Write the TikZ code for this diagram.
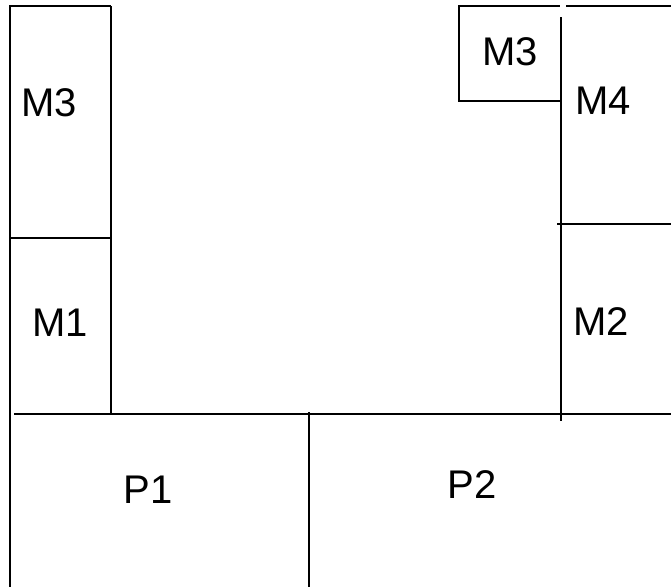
\documentclass[tikz,border=0pt]{standalone}
\usepackage{fontspec}
\setmainfont{Liberation Sans}
\tikzset{wall/.style={line width=1.6pt,black},
  lbl/.style={font=\fontsize{40}{46}\selectfont,inner sep=0pt}}

\begin{document}
\begin{tikzpicture}[x=1pt,y=-1pt]
            \useasboundingbox (0,0) rectangle (671,587);
            % Left column
            \draw[wall] (111,6) -- (10,6) -- (10,587);
            \draw[wall] (111,6) -- (111,414);
            \draw[wall] (10,238) -- (111,238);
            
            % Floor line and bottom split
            \draw[wall] (14,414) -- (671,414);
            \draw[wall] (309,412) -- (309,587);
            
            % Right column
            \draw[wall] (560,101) -- (459,101) -- (459,6) -- (560,6);
            \draw[wall] (566,6) -- (671,6);
            \draw[wall] (561,17) -- (561,421);
            \draw[wall] (557,224) -- (671,224);
            
            % Labels
            \node[lbl] (m3a) at (49,103) {M3};
            \node[lbl] (m1) at (60,323) {M1};
            \node[lbl] (p1) at (148,490) {P1};
            \node[lbl] (p2) at (472,485) {P2};
            \node[lbl] (m3b) at (510,52) {M3};
            \node[lbl] (m4) at (603,101) {M4};
            \node[lbl] (m2) at (601,322) {M2};
        \end{tikzpicture}
\end{document}
